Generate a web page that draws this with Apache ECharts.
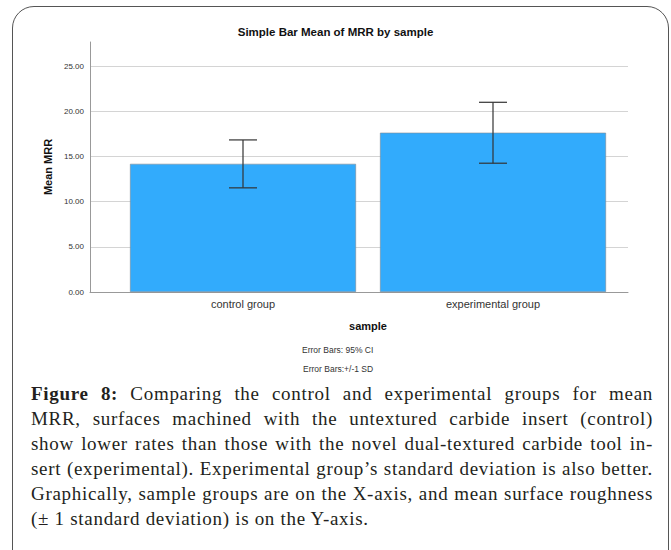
<!DOCTYPE html>
<html>
<head>
<meta charset="utf-8">
<script src="https://cdn.jsdelivr.net/npm/echarts@6/dist/echarts.min.js"></script>
<style>
  html, body { margin: 0; padding: 0; background: #fff; width: 671px; height: 550px; overflow: hidden; }
  #frame { position: absolute; left: 12px; top: 6px; width: 657px; height: 580px; border: 1.5px solid #555; border-radius: 22px; box-sizing: border-box; }
  #chart { position: absolute; left: 0; top: 0; width: 671px; height: 380px; }
  #caption { position: absolute; left: 31px; top: 381px; width: 622px; font-family: "Liberation Serif", "DejaVu Serif", serif; font-size: 19px; letter-spacing: 0.7px; color: #231f20; line-height: 25px; }
  #caption div { text-align: justify; text-align-last: justify; white-space: nowrap; }
  #caption div.last { text-align-last: left; }
</style>
</head>
<body>
<div id="frame"></div>
<div id="chart"></div>
<div id="caption">
  <div><b>Figure 8:</b> Comparing the control and experimental groups for mean</div>
  <div>MRR, surfaces machined with the untextured carbide insert (control)</div>
  <div>show lower rates than those with the novel dual-textured carbide tool in-</div>
  <div>sert (experimental). Experimental group’s standard deviation is also better.</div>
  <div>Graphically, sample groups are on the X-axis, and mean surface roughness</div>
  <div class="last">(± 1 standard deviation) is on the Y-axis.</div>
</div>
<script>
const categories = ['control group', 'experimental group'];
const means = [14.2, 17.65];
const errLow = [11.54, 14.27];
const errHigh = [16.85, 21.02];
const yTicks = [0, 5, 10, 15, 20, 25];

const yMax = 27.7;
const chart = echarts.init(document.getElementById('chart'), null, { renderer: 'svg' });
const font = 'Liberation Sans, Arial, sans-serif';

const errData = categories.map((c, i) => [i, errLow[i], errHigh[i]]);

chart.setOption({
  animation: false,
  title: {
    text: 'Simple Bar Mean of MRR by sample',
    left: 'center', top: 21,
    textStyle: { fontFamily: font, fontSize: 11.5, fontWeight: 'bold', color: '#111' }
  },
  grid: [
    { left: 90, right: 43, top: 42, bottom: 88 },
    { left: 118, right: 53, top: 42, bottom: 88 }
  ],
  xAxis: [
    { gridIndex: 0, type: 'category', data: categories, axisLine: { lineStyle: { color: '#999', width: 1 } },
      axisTick: { show: false }, axisLabel: { show: false } },
    { gridIndex: 1, type: 'category', data: categories,
      axisLine: { show: false }, axisTick: { show: false },
      axisLabel: { fontFamily: font, fontSize: 11, color: '#333', margin: 6 },
      name: 'sample', nameLocation: 'middle', nameGap: 28,
      nameTextStyle: { fontFamily: font, fontSize: 11, fontWeight: 'bold', color: '#111' } }
  ],
  yAxis: [
    { gridIndex: 0, type: 'value', min: 0, max: yMax, interval: 5,
      axisLine: { show: true, lineStyle: { color: '#999', width: 1 } },
      axisTick: { show: false },
      axisLabel: { fontFamily: font, fontSize: 8, color: '#333', margin: 6,
        formatter: v => yTicks.indexOf(v) >= 0 ? v.toFixed(2) : '' },
      splitLine: { show: true, showMinLine: false, showMaxLine: false, lineStyle: { color: '#d4d4d4', width: 1 } },
      name: 'Mean MRR', nameLocation: 'middle', nameGap: 31, nameRotate: 90,
      nameTextStyle: { fontFamily: font, fontSize: 11, fontWeight: 'bold', color: '#111' } },
    { gridIndex: 1, type: 'value', min: 0, max: yMax, interval: 5, show: false }
  ],
  series: [
    { type: 'bar', xAxisIndex: 1, yAxisIndex: 1, data: means, barWidth: 226,
      itemStyle: { color: '#32abfc', borderColor: '#7f8a94', borderWidth: 0.6 } },
    { type: 'custom', xAxisIndex: 1, yAxisIndex: 1, data: errData, z: 10,
      renderItem: function (params, api) {
        const x = api.value(0);
        const lo = api.coord([x, api.value(1)]);
        const hi = api.coord([x, api.value(2)]);
        const hw = 14;
        const st = { stroke: '#333', lineWidth: 1.2 };
        return { type: 'group', children: [
          { type: 'line', shape: { x1: lo[0], y1: lo[1], x2: hi[0], y2: hi[1] }, style: st },
          { type: 'line', shape: { x1: lo[0] - hw, y1: lo[1], x2: lo[0] + hw, y2: lo[1] }, style: st },
          { type: 'line', shape: { x1: hi[0] - hw, y1: hi[1], x2: hi[0] + hw, y2: hi[1] }, style: st }
        ] };
      }
    }
  ],
  graphic: [
    { type: 'text', left: 302, top: 345, style: { text: 'Error Bars: 95% CI', fontFamily: font, fontSize: 8.5, fill: '#333' } },
    { type: 'text', left: 303, top: 364, style: { text: 'Error Bars:+/-1 SD', fontFamily: font, fontSize: 8.5, fill: '#333' } }
  ]
});
</script>
</body>
</html>
